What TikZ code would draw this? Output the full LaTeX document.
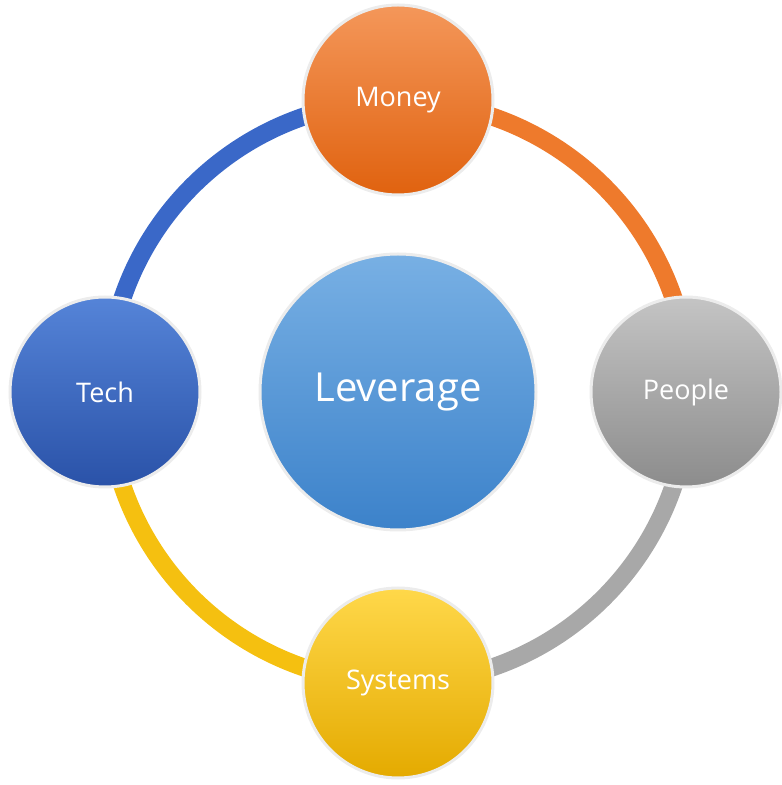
\documentclass[tikz,border=0pt]{standalone}
\usepackage{fontspec}
\setmainfont{Open Sans}
\definecolor{mo}{HTML}{EE7A2C}\definecolor{moT}{HTML}{F4975A}\definecolor{moB}{HTML}{E0620F}
\definecolor{pe}{HTML}{A8A8A8}\definecolor{peT}{HTML}{C4C4C4}\definecolor{peB}{HTML}{8C8C8C}
\definecolor{sy}{HTML}{F5C010}\definecolor{syT}{HTML}{FFD84A}\definecolor{syB}{HTML}{E4AA00}
\definecolor{te}{HTML}{3A68C8}\definecolor{teT}{HTML}{5584D8}\definecolor{teB}{HTML}{2A52A8}
\definecolor{leT}{HTML}{78B0E4}\definecolor{leB}{HTML}{3C82CA}
\begin{document}
\begin{tikzpicture}[x=1pt,y=1pt,
  ball/.style={circle,minimum size=190pt,inner sep=0pt,draw=white!85!gray,line width=3pt,text=white,font=\fontsize{27}{30}\selectfont},
  ring/.style={line width=18pt}]
\useasboundingbox (0,0) rectangle (782,785);
\coordinate (c) at (398,393);
\draw[ring,mo] ([shift={(90:291)}]c) arc (90:0:291);
\draw[ring,pe] ([shift={(0:291)}]c) arc (0:-90:291);
\draw[ring,sy] ([shift={(-90:291)}]c) arc (-90:-180:291);
\draw[ring,te] ([shift={(180:291)}]c) arc (180:90:291);
\node[ball,top color=moT,bottom color=moB] (money) at (398,685) {Money};
\node[ball,top color=peT,bottom color=peB] (people) at (686,393) {People};
\node[ball,top color=syT,bottom color=syB] (systems) at (398,102) {Systems};
\node[ball,top color=teT,bottom color=teB] (tech) at (105,393) {Tech};
\node[ball,minimum size=276pt,top color=leT,bottom color=leB,font=\fontsize{40}{44}\selectfont] (lev) at (c) {Leverage};
\end{tikzpicture}
\end{document}
